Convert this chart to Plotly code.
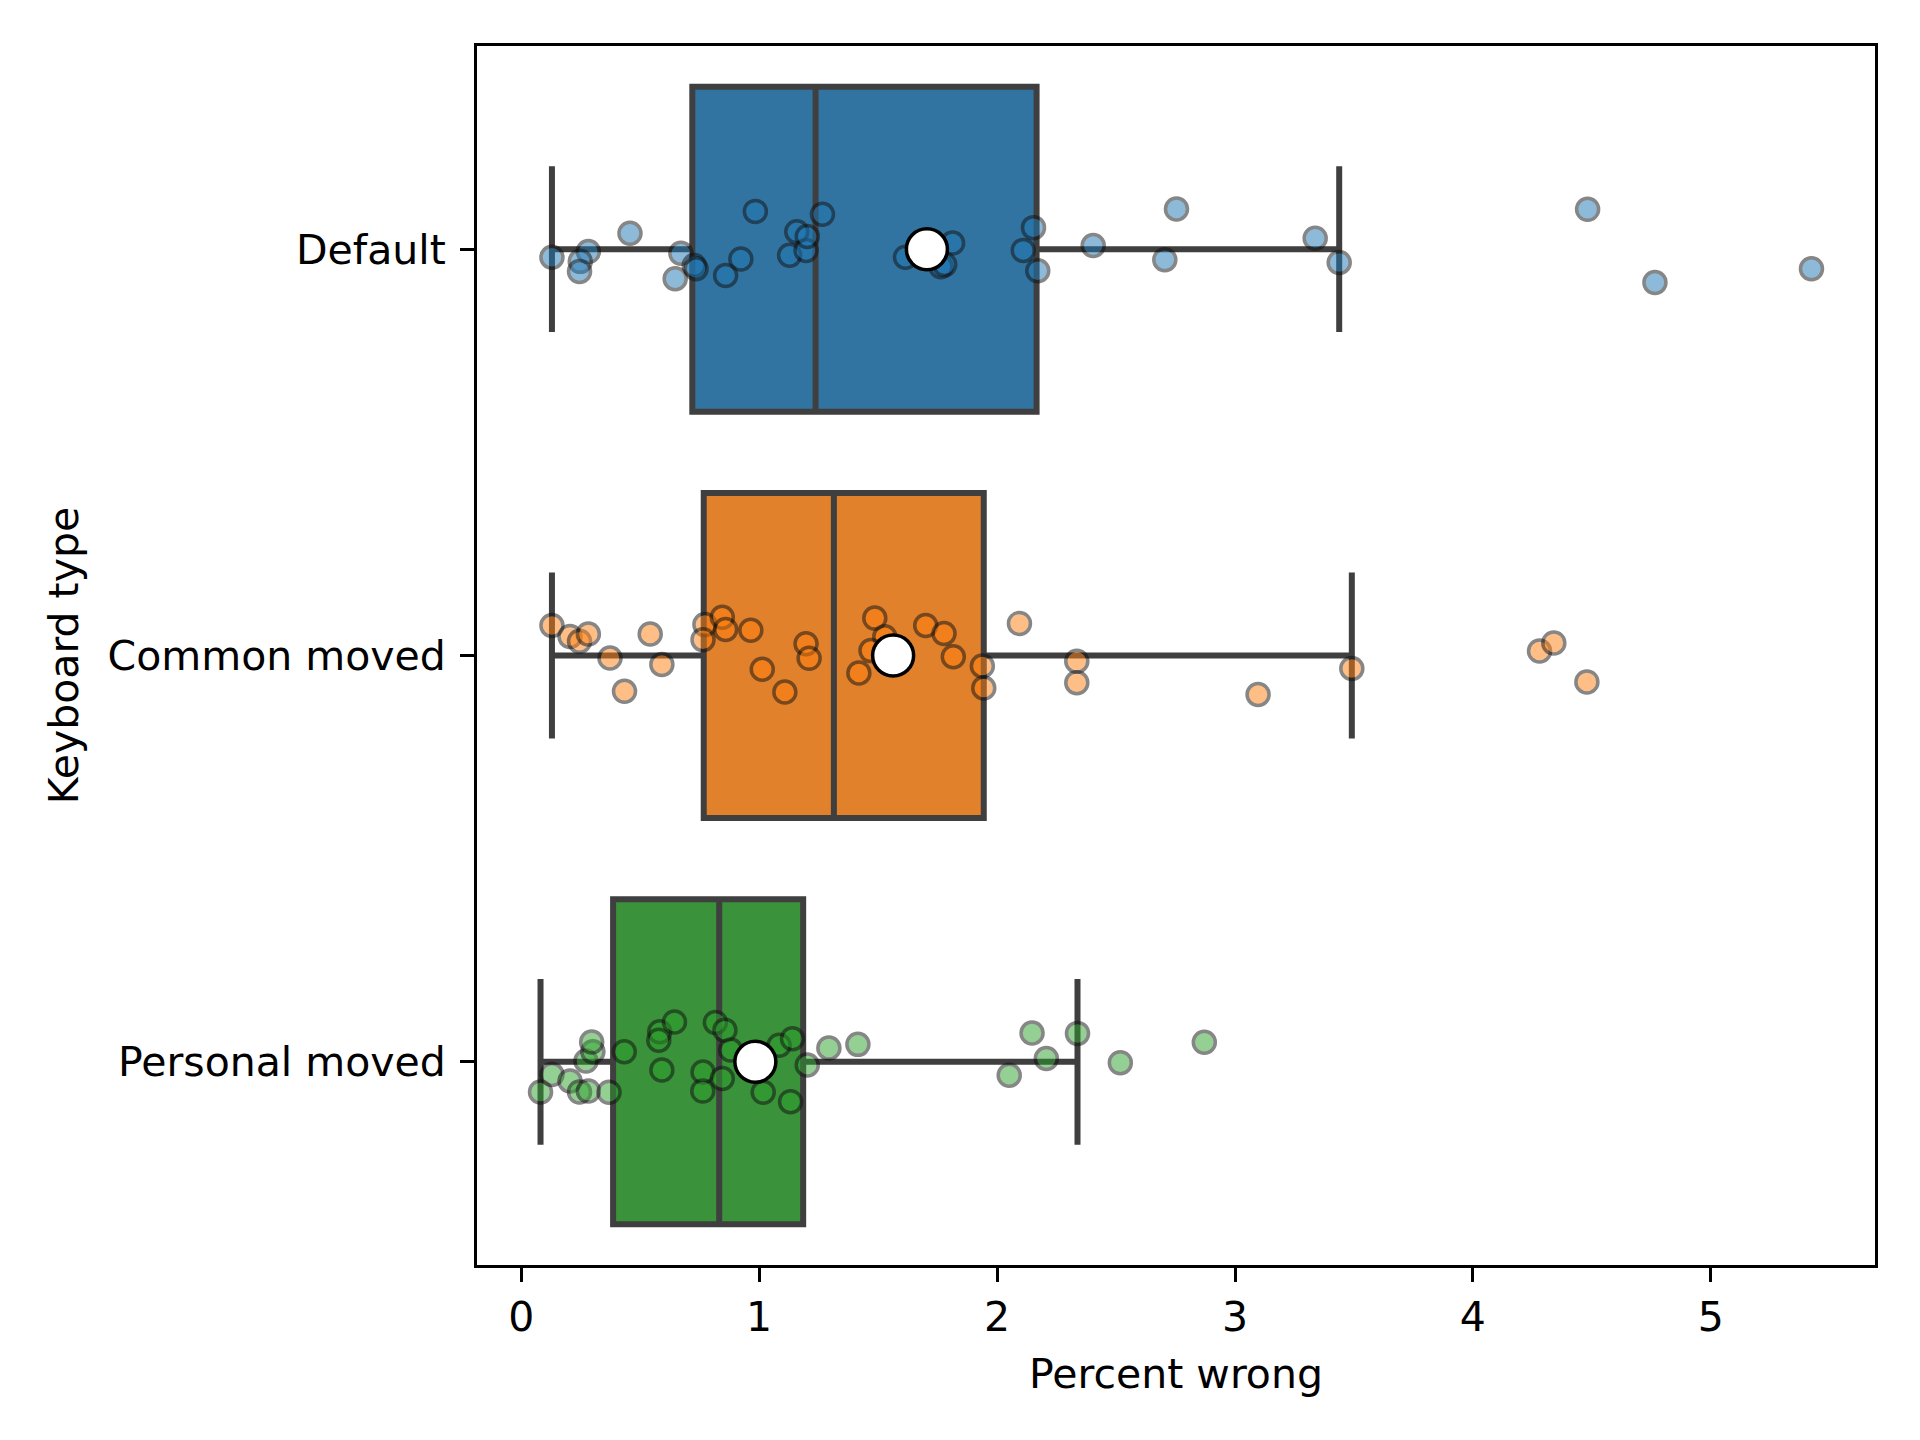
import plotly.graph_objects as go

# keyboard groups, top to bottom
groups = ['Default', 'Common moved', 'Personal moved']
box_colors = ['#3274a1', '#e1812c', '#3a923a']
point_colors = ['rgb(31,119,180)', 'rgb(255,127,14)', 'rgb(44,160,44)']

# box stats (percent wrong)
q1 = [0.719, 0.767, 0.386]
medians = [1.237, 1.314, 0.832]
q3 = [2.166, 1.944, 1.185]
whisker_low = [0.129, 0.129, 0.081]
whisker_high = [3.438, 3.491, 2.338]
means = [1.705, 1.563, 0.984]

# strip points: value + vertical jitter (in category units)
default_vals = [0.129, 0.282, 0.248, 0.245, 0.457, 0.671, 0.647, 0.727, 0.735, 0.859,
                0.923, 0.984, 1.128, 1.158, 1.197, 1.202, 1.266, 1.615, 1.764, 1.780,
                1.813, 2.110, 2.153, 2.171, 2.404, 2.754, 2.705, 3.337, 3.438, 4.482,
                4.765, 5.423]
default_jitter = [0.020, 0.006, 0.030, 0.055, -0.039, 0.010, 0.073, 0.040, 0.048, 0.065,
                  0.024, -0.093, 0.015, -0.043, 0.003, -0.031, -0.086, 0.020, 0.043, 0.038,
                  -0.015, 0.003, -0.053, 0.053, -0.009, -0.099, 0.026, -0.027, 0.033, -0.098,
                  0.082, 0.048]

common_vals = [0.129, 0.205, 0.245, 0.282, 0.373, 0.542, 0.591, 0.434, 0.772, 0.764,
               0.845, 0.859, 0.965, 1.013, 1.108, 1.197, 1.210, 1.419, 1.486, 1.528,
               1.470, 1.700, 1.777, 1.816, 1.938, 1.944, 2.094, 2.335, 2.335, 3.097,
               3.491, 4.280, 4.340, 4.479]
common_jitter = [-0.074, -0.047, -0.035, -0.053, 0.006, -0.053, 0.022, 0.088, -0.076, -0.039,
                 -0.094, -0.064, -0.062, 0.034, 0.090, -0.029, 0.007, 0.043, -0.092, -0.046,
                 -0.012, -0.074, -0.054, 0.003, 0.026, 0.080, -0.079, 0.014, 0.067, 0.096,
                 0.032, -0.011, -0.031, 0.065]

personal_vals = [0.081, 0.129, 0.205, 0.245, 0.282, 0.369, 0.272, 0.301, 0.296, 0.433,
                 0.582, 0.578, 0.644, 0.591, 0.764, 0.763, 0.816, 0.856, 0.845, 0.880,
                 1.017, 1.084, 1.140, 1.132, 1.202, 1.293, 1.415, 2.051, 2.147, 2.207,
                 2.338, 2.518, 2.871]
personal_jitter = [0.074, 0.031, 0.047, 0.074, 0.072, 0.075, -0.002, -0.025, -0.049, -0.025,
                   -0.074, -0.053, -0.098, 0.020, 0.025, 0.072, -0.097, -0.078, 0.041, -0.029,
                   0.075, -0.041, -0.057, 0.098, 0.008, -0.034, -0.043, 0.033, -0.071, -0.008,
                   -0.070, 0.002, -0.048]

x_ticks = [0, 1, 2, 3, 4, 5]

font = dict(family='DejaVu Sans', size=41, color='black')
edge = '#3f3f3f'

fig = go.Figure()

# boxes first, points on top
for i, g in enumerate(groups):
    fig.add_trace(go.Box(
        y=[i], q1=[q1[i]], median=[medians[i]], q3=[q3[i]],
        lowerfence=[whisker_low[i]], upperfence=[whisker_high[i]],
        orientation='h', width=0.8, whiskerwidth=0.51,
        fillcolor=box_colors[i], line=dict(color=edge, width=6),
        boxpoints=False, name=g, showlegend=False))

strips = [(default_vals, default_jitter), (common_vals, common_jitter),
          (personal_vals, personal_jitter)]
for i, (vals, jit) in enumerate(strips):
    fig.add_trace(go.Scatter(
        x=vals, y=[i + j for j in jit], mode='markers', showlegend=False,
        marker=dict(size=22, color=point_colors[i], opacity=0.5,
                    line=dict(color='rgb(15,15,15)', width=3.5))))

fig.add_trace(go.Scatter(
    x=means, y=list(range(len(groups))), mode='markers', showlegend=False,
    marker=dict(size=41, color='white', line=dict(color='black', width=3.5))))

fig.update_layout(
    width=1920, height=1440,
    margin=dict(l=469, r=53, t=38, b=183),
    paper_bgcolor='white', plot_bgcolor='white',
    boxmode='overlay', font=font,
    xaxis=dict(
        range=[-0.186, 5.69], tickvals=x_ticks, ticks='outside', ticklen=14, tickwidth=3,
        tickcolor='black', showline=True, linecolor='black', linewidth=3, mirror=True,
        showgrid=False, zeroline=False, tickfont=font,
        title=dict(text='Percent wrong', font=font, standoff=20)),
    yaxis=dict(
        range=[2.5, -0.5], tickvals=[0, 1, 2], ticktext=groups, ticks='outside',
        ticklen=14, tickwidth=3, tickcolor='black', showline=True, linecolor='black',
        linewidth=3, mirror=True, showgrid=False, zeroline=False, tickfont=font,
        ticklabelstandoff=6,
        title=dict(text='Keyboard type', font=font, standoff=17)),
)

fig.write_html("out.html")
